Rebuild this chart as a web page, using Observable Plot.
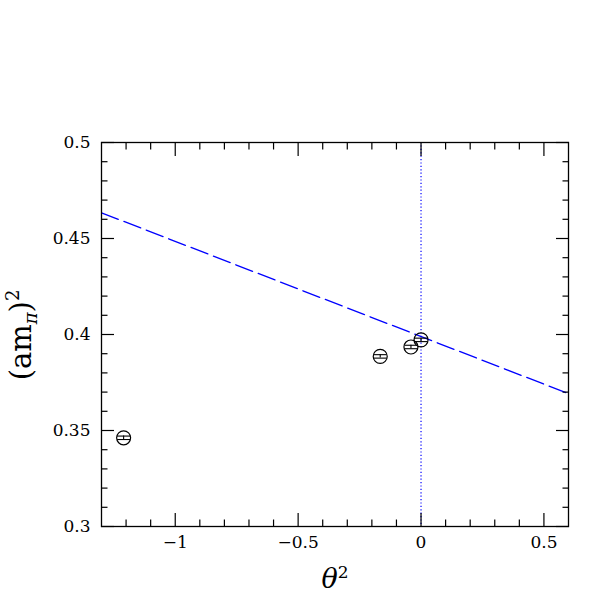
<!DOCTYPE html>
<html>
<head>
<meta charset="utf-8">
<script src="https://cdn.jsdelivr.net/npm/d3@7"></script>
<script src="https://cdn.jsdelivr.net/npm/@observablehq/plot@0.6"></script>
<style>
  html, body { margin: 0; padding: 0; background: #fff; }
  #chart { width: 599px; height: 599px; }
</style>
</head>
<body>
<div id="chart"></div>
<script>
// data
const theta2 = [-1.21, -0.166, -0.041, 0.0];
const ampi2 = [0.3462, 0.3886, 0.3935, 0.3972];
const ampi2Err = [0.0009, 0.0009, 0.0009, 0.0009];
const fitX = [-1.3, 0.6];
const fitY = [0.4634, 0.3692];
const xMajor = [-1, -0.5, 0, 0.5];
const xMinor = [-1.2, -1.1, -0.9, -0.8, -0.7, -0.6, -0.4, -0.3, -0.2, -0.1, 0.1, 0.2, 0.3, 0.4];
const yMajor = [0.3, 0.35, 0.4, 0.45, 0.5];
const yMinor = [0.31, 0.32, 0.33, 0.34, 0.36, 0.37, 0.38, 0.39, 0.41, 0.42, 0.43, 0.44, 0.46, 0.47, 0.48, 0.49];

const points = theta2.map((x, i) => ({x, y: ampi2[i], lo: ampi2[i] - ampi2Err[i], hi: ampi2[i] + ampi2Err[i]}));
const fit = fitX.map((x, i) => ({x, y: fitY[i]}));

const capSymbol = {
  draw(context, size) {
    const w = Math.sqrt(size / Math.PI);
    context.moveTo(-w, 0);
    context.lineTo(w, 0);
  }
};

const font = "DejaVu Serif";
const tickStyle = {stroke: "#000", strokeWidth: 1.2, label: null};

const chart = Plot.plot({
  width: 599,
  height: 599,
  marginLeft: 101,
  marginRight: 31,
  marginTop: 142,
  marginBottom: 73,
  style: {fontFamily: font, background: "#fff"},
  x: {domain: [-1.3, 0.6], label: null},
  y: {domain: [0.3, 0.5], label: null},
  marks: [
    Plot.ruleX([0], {stroke: "#0000ff", strokeWidth: 1.2, strokeDasharray: "1.2,2.2"}),
    Plot.line(fit, {x: "x", y: "y", stroke: "#0000ff", strokeWidth: 1.3, strokeDasharray: "18,6", clip: true}),
    // ticks on all four sides, pointing inward
    Plot.axisX(xMajor, {anchor: "bottom", tickSize: -13, text: null, ...tickStyle}),
    Plot.axisX(xMinor, {anchor: "bottom", tickSize: -6.5, text: null, ...tickStyle}),
    Plot.axisX(xMajor, {anchor: "top", tickSize: -13, text: null, ...tickStyle}),
    Plot.axisX(xMinor, {anchor: "top", tickSize: -6.5, text: null, ...tickStyle}),
    Plot.axisY(yMajor, {anchor: "left", tickSize: -13, text: null, ...tickStyle}),
    Plot.axisY(yMinor, {anchor: "left", tickSize: -6.5, text: null, ...tickStyle}),
    Plot.axisY(yMajor, {anchor: "right", tickSize: -13, text: null, ...tickStyle}),
    Plot.axisY(yMinor, {anchor: "right", tickSize: -6.5, text: null, ...tickStyle}),
    // tick labels
    Plot.axisX(xMajor, {anchor: "bottom", tickSize: 0, tickPadding: 9, fontSize: 17, label: null, fill: "#000",
      tickFormat: d => d3.format("~g")(d)}),
    Plot.axisY(yMajor, {anchor: "left", tickSize: 0, tickPadding: 11, fontSize: 17, label: null, fill: "#000",
      tickFormat: d => d3.format(".2~f")(d)}),
    // data
    Plot.ruleX(points, {x: "x", y1: "lo", y2: "hi", stroke: "#000", strokeWidth: 1.1}),
    Plot.dot(points, {x: "x", y: "lo", r: 6.5, symbol: capSymbol, stroke: "#000", strokeWidth: 1.1}),
    Plot.dot(points, {x: "x", y: "hi", r: 6.5, symbol: capSymbol, stroke: "#000", strokeWidth: 1.1}),
    Plot.dot(points, {x: "x", y: "y", r: 7, stroke: "#000", fill: "none", strokeWidth: 1.2}),
    Plot.frame({stroke: "#000", strokeWidth: 1.3})
  ]
});

const svg = d3.select(chart);
// y-axis label (am_pi)^2
const yl = svg.append("text")
  .attr("transform", "translate(31,335) rotate(-90)")
  .attr("text-anchor", "middle")
  .attr("font-family", font)
  .attr("font-size", 29)
  .attr("fill", "#000");
yl.append("tspan").text("(am");
yl.append("tspan").attr("font-size", 18).attr("dy", 6).attr("font-style", "italic").text("π");
yl.append("tspan").attr("dy", -6).text(")");
yl.append("tspan").attr("font-size", 18).attr("dy", -12).text("2");

// x-axis label theta^2
const xl = svg.append("text")
  .attr("x", 335)
  .attr("y", 588)
  .attr("text-anchor", "middle")
  .attr("font-family", font)
  .attr("font-size", 27)
  .attr("fill", "#000");
xl.append("tspan").attr("font-style", "italic").text("θ");
xl.append("tspan").attr("font-size", 17).attr("dy", -10).text("2");

document.getElementById("chart").appendChild(chart);
</script>
</body>
</html>
